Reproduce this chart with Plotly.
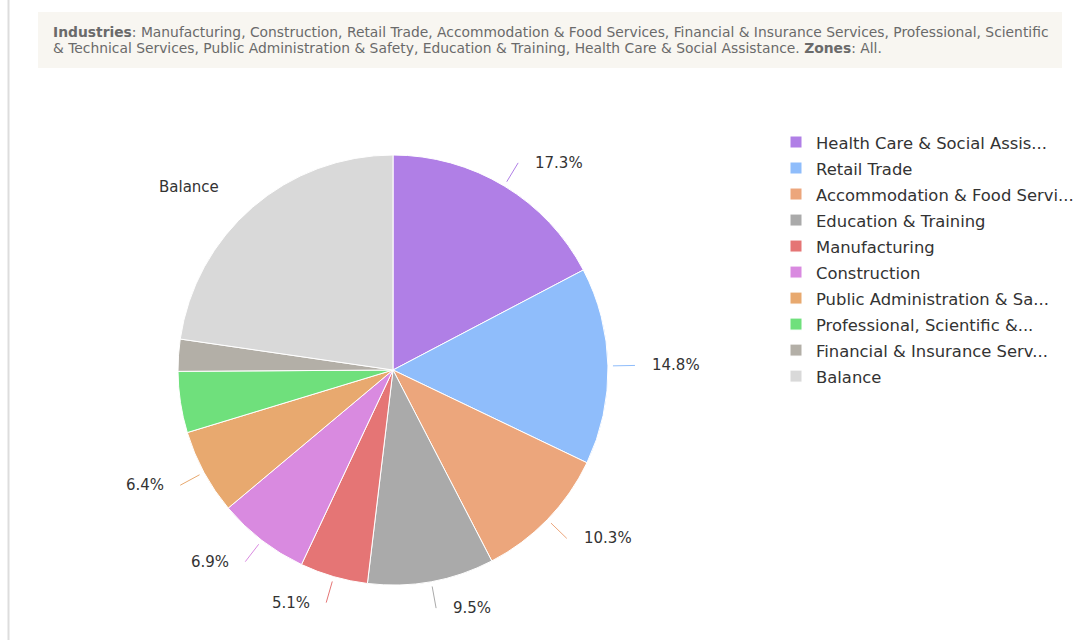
import math
import plotly.graph_objects as go

# ---------------- data ----------------
industries = [
    "Health Care & Social Assistance",
    "Retail Trade",
    "Accommodation & Food Services",
    "Education & Training",
    "Manufacturing",
    "Construction",
    "Public Administration & Safety",
    "Professional, Scientific & Technical Services",
    "Financial & Insurance Services",
    "Balance",
]
shares = [17.3, 14.8, 10.3, 9.5, 5.1, 6.9, 6.4, 4.6, 2.4, 22.7]
colors = ["#b07fe6", "#8fbdfb", "#eca67c", "#aaaaaa", "#e57575",
          "#d98ae0", "#e8a96f", "#6fe07c", "#b3afa7", "#d9d9d9"]
label_min = 5.0  # slices below this share carry no label

header_line1 = ("<b>Industries</b>: Manufacturing, Construction, Retail Trade, Accommodation &amp; Food Services, "
                "Financial &amp; Insurance Services, Professional, Scientific")
header_line2 = ("&amp; Technical Services, Public Administration &amp; Safety, Education &amp; Training, "
                "Health Care &amp; Social Assistance. <b>Zones</b>: All.")

# ---------------- layout geometry ----------------
W, H = 1085, 640
CX, CY, R = 393, 370, 215


def trunc(s, n=26):
    return s if len(s) <= n + 1 else s[:n] + "..."


legend_names = ["<span style='font-size:16.4px'>" + trunc(s) + "</span>" for s in industries]

fig = go.Figure()
fig.add_trace(go.Pie(
    labels=legend_names,
    values=shares,
    sort=False,
    direction="clockwise",
    rotation=0,
    marker=dict(colors=colors, line=dict(color="#ffffff", width=1)),
    textinfo="none",
    hoverinfo="percent",
    domain=dict(x=[(CX - R) / W, (CX + R) / W], y=[1 - (CY + R) / H, 1 - (CY - R) / H]),
    showlegend=True,
))


def px(x):
    return x / W


def py(y):
    return 1 - y / H


total = sum(shares)
cum = 0.0
shapes = []
annotations = []
for name, v, c in zip(industries, shares, colors):
    mid = (cum + v / 2) / total * 2 * math.pi
    cum += v
    if v < label_min and name != "Balance":
        continue
    sx, sy = math.sin(mid), -math.cos(mid)
    x0, y0 = CX + (R + 5) * sx, CY + (R + 5) * sy
    x1, y1 = CX + (R + 27) * sx, CY + (R + 27) * sy
    if name != "Balance":
        shapes.append(dict(type="line", xref="paper", yref="paper",
                           x0=px(x0), y0=py(y0), x1=px(x1), y1=py(y1),
                           line=dict(color=c, width=1)))
    right = sx >= 0
    txt = "Balance" if name == "Balance" else f"{v:.1f}%"
    annotations.append(dict(xref="paper", yref="paper",
                            x=px(x1 + (15 if right else -14)), y=py(y1),
                            text=txt, showarrow=False,
                            xanchor="left" if right else "right", yanchor="middle",
                            font=dict(family="DejaVu Sans", size=15, color="#333333")))

# header box and side rule
shapes.append(dict(type="rect", xref="paper", yref="paper",
                   x0=px(38), x1=px(1062), y0=py(12), y1=py(68),
                   fillcolor="#f8f6f1", line=dict(width=0), layer="below"))
shapes.append(dict(type="line", xref="paper", yref="paper",
                   x0=px(8.5), x1=px(8.5), y0=0, y1=1,
                   line=dict(color="#dddddd", width=2)))
for txt, yy in ((header_line1, 32), (header_line2, 48)):
    annotations.append(dict(xref="paper", yref="paper", x=px(51), y=py(yy),
                            text=txt, showarrow=False, align="left",
                            xanchor="left", yanchor="middle",
                            font=dict(family="DejaVu Sans", size=13.85, color="#6a6a6a")))

fig.update_layout(
    width=W, height=H,
    margin=dict(l=0, r=0, t=0, b=0),
    paper_bgcolor="#ffffff",
    plot_bgcolor="#ffffff",
    shapes=shapes,
    annotations=annotations,
    legend=dict(x=px(776), y=py(124), xanchor="left", yanchor="top",
                font=dict(family="DejaVu Sans", size=17.7, color="#333333"),
                bgcolor="rgba(0,0,0,0)", tracegroupgap=0, traceorder="normal"),
)

fig.write_html("out.html")
